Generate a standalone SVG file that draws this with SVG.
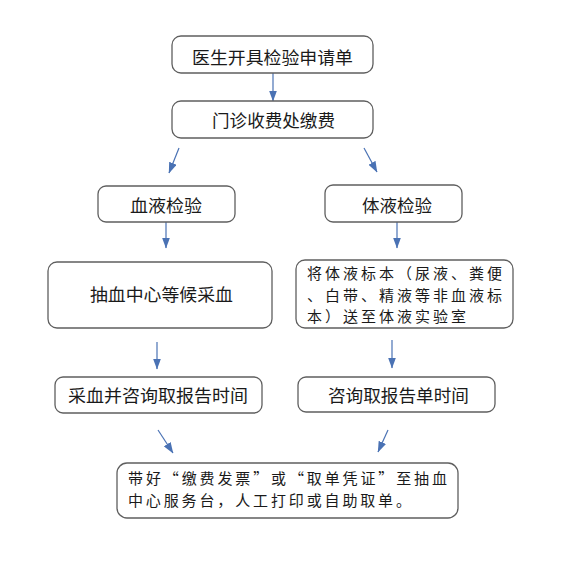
<svg xmlns="http://www.w3.org/2000/svg" width="564" height="574" viewBox="0 0 564 574">
<style>
.box{fill:#fff;stroke:#5f5f5f;stroke-width:1.3}
.t{font-family:"Noto Sans CJK SC","Noto Sans",sans-serif;font-size:17.5px;fill:#1a1a1a}
.s{font-size:15px}
.c{stroke:#4a72b4;stroke-width:1.2;fill:none}
</style>
<defs>
<marker id="ah" markerUnits="userSpaceOnUse" markerWidth="11" markerHeight="8" refX="10.5" refY="4" orient="auto">
<path d="M0,0 L11,4 L0,8 z" fill="#4a72b4"/>
</marker>
</defs>
<rect width="564" height="574" fill="#fff"/>
<g id="connectors">
<line class="c" x1="273" y1="73" x2="273" y2="101" marker-end="url(#ah)"/>
<line class="c" x1="179" y1="148" x2="169" y2="173" marker-end="url(#ah)"/>
<line class="c" x1="364" y1="148" x2="377" y2="172" marker-end="url(#ah)"/>
<line class="c" x1="166" y1="222" x2="166" y2="248" marker-end="url(#ah)"/>
<line class="c" x1="397" y1="222" x2="397" y2="248" marker-end="url(#ah)"/>
<line class="c" x1="157" y1="342" x2="157" y2="369" marker-end="url(#ah)"/>
<line class="c" x1="392" y1="340" x2="392" y2="368" marker-end="url(#ah)"/>
<line class="c" x1="158" y1="430" x2="173" y2="453" marker-end="url(#ah)"/>
<line class="c" x1="388" y1="430" x2="378" y2="452" marker-end="url(#ah)"/>
</g>
<g id="n1">
<rect class="box" x="172" y="36" width="201" height="37" rx="9"/>
<text class="t" x="192" y="64" textLength="161" lengthAdjust="spacingAndGlyphs">医生开具检验申请单</text>
</g>
<g id="n2">
<rect class="box" x="172" y="101" width="201" height="37" rx="9"/>
<text class="t" x="212" y="127" textLength="123" lengthAdjust="spacingAndGlyphs">门诊收费处缴费</text>
</g>
<g id="n3">
<rect class="box" x="98" y="186" width="137" height="36" rx="8"/>
<text class="t" x="130" y="212" textLength="72" lengthAdjust="spacingAndGlyphs">血液检验</text>
</g>
<g id="n4">
<rect class="box" x="325" y="185" width="137" height="37" rx="8"/>
<text class="t" x="362" y="212" textLength="70" lengthAdjust="spacingAndGlyphs">体液检验</text>
</g>
<g id="n5">
<rect class="box" x="48" y="262" width="224" height="66" rx="9"/>
<text class="t" x="90" y="301" textLength="143" lengthAdjust="spacingAndGlyphs">抽血中心等候采血</text>
</g>
<g id="n6">
<rect class="box" x="296" y="260" width="217" height="68" rx="9"/>
<text class="t s" x="307" y="279" textLength="195" lengthAdjust="spacing">将体液标本（尿液、粪便</text>
<text class="t s" x="307" y="300.7" textLength="195" lengthAdjust="spacing">、白带、精液等非血液标</text>
<text class="t s" x="307" y="322.4" textLength="159" lengthAdjust="spacing">本）送至体液实验室</text>
</g>
<g id="n7">
<rect class="box" x="55" y="377" width="207" height="36" rx="8"/>
<text class="t" x="68" y="402" textLength="180" lengthAdjust="spacingAndGlyphs">采血并咨询取报告时间</text>
</g>
<g id="n8">
<rect class="box" x="298" y="377" width="197" height="35" rx="8"/>
<text class="t" x="328" y="402" textLength="141" lengthAdjust="spacingAndGlyphs">咨询取报告单时间</text>
</g>
<g id="n9">
<rect class="box" x="117" y="463" width="341" height="55" rx="10"/>
<text class="t s" x="128" y="484" textLength="319" lengthAdjust="spacing">带好“缴费发票”或“取单凭证”至抽血</text>
<text class="t s" x="128" y="505.8" textLength="283" lengthAdjust="spacing">中心服务台，人工打印或自助取单。</text>
</g>
</svg>
